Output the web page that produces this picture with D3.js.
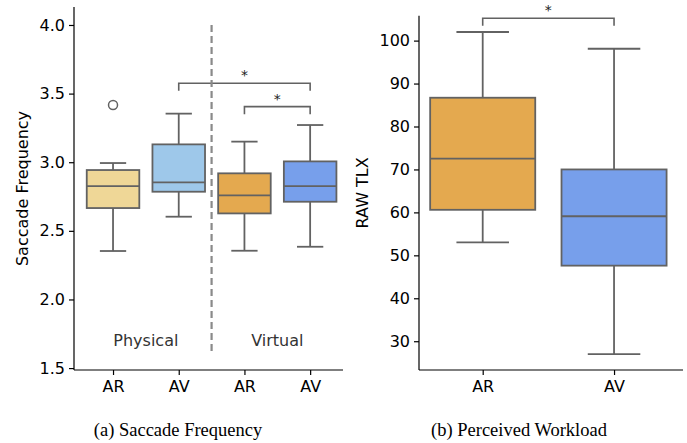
<!DOCTYPE html>
<html>
<head>
<meta charset="utf-8">
<script src="https://cdn.jsdelivr.net/npm/d3@7"></script>
<style>
  body { margin: 0; background: #fff; }
  svg { display: block; font-family: "DejaVu Sans", sans-serif; }
</style>
</head>
<body>
<div id="chart"></div>
<script>
// (a) saccade frequency, one box per condition
const saccadeLabels = ["AR", "AV", "AR", "AV"];
const saccadeColors = ["#efd797", "#9ec8ea", "#e4a94f", "#779feb"];
// [whiskerLow, q1, median, q3, whiskerHigh]
const saccadeStats = [
  [2.353, 2.666, 2.826, 2.943, 2.994],
  [2.603, 2.785, 2.853, 3.130, 3.354],
  [2.355, 2.627, 2.759, 2.919, 3.150],
  [2.384, 2.712, 2.826, 3.006, 3.271]
];
const saccadeOutliers = [[3.417], [], [], []];
const saccadeTicks = [1.5, 2.0, 2.5, 3.0, 3.5, 4.0];
const groupNames = [{ name: "Physical", pos: 0.5 }, { name: "Virtual", pos: 2.5 }];
// brackets: [from, to, height]
const saccadeSig = [[1, 3, 3.575], [2, 3, 3.405]];

// (b) perceived workload
const tlxLabels = ["AR", "AV"];
const tlxColors = ["#e4a94f", "#779feb"];
const tlxStats = [
  [53.0, 60.6, 72.5, 86.7, 102.0],
  [27.0, 47.6, 59.1, 70.0, 98.1]
];
const tlxTicks = [30, 40, 50, 60, 70, 80, 90, 100];
const tlxSig = [[0, 1, 105.2]];

const W = 687, H = 443;
const edge = "#626262";

const svg = d3.select("#chart").append("svg")
  .attr("width", W).attr("height", H);

function drawPanel(cfg) {
  const x = d3.scaleLinear().domain(cfg.xDomain).range([cfg.left, cfg.right]);
  const y = d3.scaleLinear().domain(cfg.yDomain).range([cfg.bottom, cfg.top]);
  const g = svg.append("g");

  // axes
  const yAxis = g.append("g")
    .attr("transform", `translate(${cfg.left},0)`)
    .call(d3.axisLeft(y).tickValues(cfg.yTicks).tickFormat(cfg.fmt).tickSize(5).tickPadding(4));
  const xAxis = g.append("g")
    .attr("transform", `translate(0,${cfg.bottom})`)
    .call(d3.axisBottom(x).tickValues(cfg.labels.map((d, i) => i))
      .tickFormat(i => cfg.labels[i]).tickSize(5).tickPadding(6));
  [yAxis, xAxis].forEach(a => {
    a.selectAll("path, line").attr("stroke", "#000").attr("stroke-width", 1.2);
    a.selectAll("text").attr("font-size", 16).attr("fill", "#000")
      .attr("font-family", "DejaVu Sans, sans-serif");
  });
  xAxis.select(".domain").attr("d", `M${cfg.left},0H${cfg.right}`);
  yAxis.select(".domain").attr("d", `M0,${cfg.bottom}V${cfg.top}`);

  g.append("text")
    .attr("transform", `translate(${cfg.ylabelX},${(cfg.top + cfg.bottom) / 2}) rotate(-90)`)
    .attr("text-anchor", "middle").attr("dy", "0.35em")
    .attr("font-size", 16).text(cfg.ylabel);

  const half = (x(0.4) - x(0));
  cfg.stats.forEach((s, i) => {
    const cx = x(i);
    // whiskers
    g.append("line").attr("x1", cx).attr("x2", cx).attr("y1", y(s[0])).attr("y2", y(s[1]))
      .attr("stroke", edge).attr("stroke-width", 1.8);
    g.append("line").attr("x1", cx).attr("x2", cx).attr("y1", y(s[3])).attr("y2", y(s[4]))
      .attr("stroke", edge).attr("stroke-width", 1.8);
    [s[0], s[4]].forEach(v => {
      g.append("line").attr("x1", cx - half / 2).attr("x2", cx + half / 2)
        .attr("y1", y(v)).attr("y2", y(v))
        .attr("stroke", edge).attr("stroke-width", 1.8);
    });
    g.append("rect")
      .attr("x", cx - half).attr("width", half * 2)
      .attr("y", y(s[3])).attr("height", y(s[1]) - y(s[3]))
      .attr("fill", cfg.colors[i]).attr("stroke", edge).attr("stroke-width", 1.8);
    g.append("line").attr("x1", cx - half).attr("x2", cx + half)
      .attr("y1", y(s[2])).attr("y2", y(s[2]))
      .attr("stroke", edge).attr("stroke-width", 1.8);
    (cfg.outliers ? cfg.outliers[i] : []).forEach(v => {
      g.append("circle").attr("cx", cx).attr("cy", y(v)).attr("r", 4.5)
        .attr("fill", "none").attr("stroke", edge).attr("stroke-width", 1.5);
    });
  });

  // significance brackets
  cfg.sig.forEach(([a, b, h]) => {
    const yy = y(h), drop = 7.5;
    g.append("path")
      .attr("d", `M${x(a)},${yy + drop}V${yy}H${x(b)}V${yy + drop}`)
      .attr("fill", "none").attr("stroke", edge).attr("stroke-width", 1.6);
    g.append("text").attr("x", (x(a) + x(b)) / 2).attr("y", yy - 3)
      .attr("text-anchor", "middle").attr("font-size", 14).attr("fill", "#222").text("*");
  });

  g.append("text")
    .attr("x", cfg.captionX).attr("y", 430).attr("dy", "0.35em")
    .attr("text-anchor", "middle")
    .style("font-family", "'Liberation Serif', 'Times New Roman', serif")
    .attr("font-size", 18.5).text(cfg.caption);

  return { g, x, y };
}

const a = drawPanel({
  left: 74, right: 343, top: 7, bottom: 370,
  xDomain: [-0.594, 3.5], yDomain: [1.486, 4.131],
  yTicks: saccadeTicks, fmt: d3.format(".1f"),
  labels: saccadeLabels, colors: saccadeColors,
  stats: saccadeStats, outliers: saccadeOutliers, sig: saccadeSig,
  ylabel: "Saccade Frequency", ylabelX: 22,
  caption: "(a) Saccade Frequency", captionX: 178
});

// physical / virtual divider
a.g.append("line")
  .attr("x1", a.x(1.5)).attr("x2", a.x(1.5))
  .attr("y1", a.y(4.0)).attr("y2", a.y(1.6))
  .attr("stroke", "#8a8a8a").attr("stroke-width", 2.2).attr("stroke-dasharray", "7,4");
groupNames.forEach(d => {
  a.g.append("text").attr("x", a.x(d.pos)).attr("y", a.y(1.7)).attr("dy", "0.35em")
    .attr("text-anchor", "middle").attr("font-size", 16).attr("fill", "#333").text(d.name);
});

drawPanel({
  left: 419, right: 683, top: 15.7, bottom: 370,
  xDomain: [-0.485, 1.525], yDomain: [23.3, 105.8],
  yTicks: tlxTicks, fmt: d3.format("d"),
  labels: tlxLabels, colors: tlxColors,
  stats: tlxStats, sig: tlxSig,
  ylabel: "RAW TLX", ylabelX: 362,
  caption: "(b) Perceived Workload", captionX: 519
});
</script>
</body>
</html>
